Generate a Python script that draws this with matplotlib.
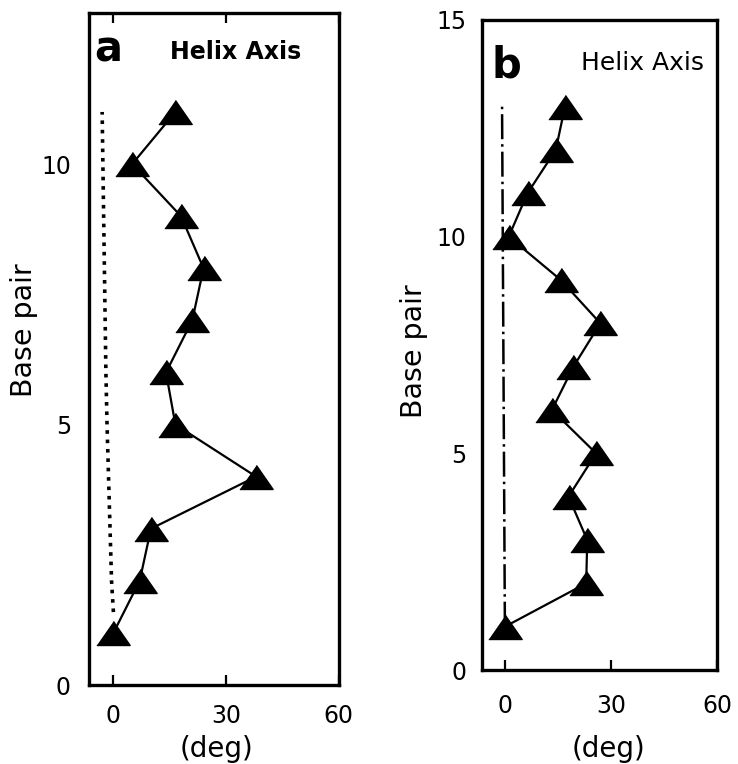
import matplotlib
matplotlib.use('Agg')
import matplotlib.pyplot as plt

# panel a: twist angle per base pair, with helix axis
bp_a = [1, 2, 3, 4, 5, 6, 7, 8, 9, 10, 11]
deg_a = [0, 7, 10, 38, 16.5, 14, 21, 24, 18, 5, 16.5]
axis_a_bp = [1.4, 2, 3, 4, 5, 6, 7, 8, 9, 10, 11]
axis_a_deg = [0, -0.5, -0.9, -1.3, -1.7, -2.0, -2.2, -2.4, -2.6, -2.8, -3.0]

# panel b
bp_b = [1, 2, 3, 4, 5, 6, 7, 8, 9, 10, 11, 12, 13]
deg_b = [0, 23, 23.3, 18, 25.8, 13.3, 19.4, 27, 15.8, 1.1, 6.4, 14.4, 17]
axis_b_bp = [1, 13]
axis_b_deg = [0, -0.8]

plt.rcParams['font.family'] = ['DejaVu Sans']

tri = [(-1, -0.72), (1, -0.72), (0, 0.72)]

fig = plt.figure(figsize=(7.38, 7.64), dpi=100)
ax_a = fig.add_axes([0.1206, 0.1034, 0.3384, 0.8796])
ax_b = fig.add_axes([0.653, 0.123, 0.3185, 0.851])

# --- panel a
ax_a.plot(axis_a_deg, axis_a_bp, color='black', linestyle=(0, (1, 1.6)), linewidth=2.6)
ax_a.plot(deg_a, bp_a, color='black', linewidth=1.6, marker=tri, markersize=24)
ax_a.set_xlim(-6.5, 59)
ax_a.set_ylim(0, 12.9)
ax_a.set_xticks([0, 30, 60])
ax_a.set_yticks([0, 5, 10])
ax_a.tick_params(direction='in', length=7, width=1.6, top=True, right=True,
                 labelsize=17)
ax_a.tick_params(axis='y', pad=13)
ax_a.tick_params(axis='x', pad=14)
ax_a.text(-1.3, 12.19, 'a', fontsize=30, fontweight='bold', ha='center', va='center')
ax_a.text(32.5, 12.15, 'Helix Axis', fontsize=17, fontweight='bold',
          ha='center', va='center')
ax_a.set_ylabel('Base pair', fontsize=20.5)
ax_a.set_xlabel('(deg)', fontsize=20)
ax_a.yaxis.set_label_coords(-0.204, 0.528)
ax_a.xaxis.set_label_coords(0.51, -0.074)

# --- panel b
ax_b.plot(axis_b_deg, axis_b_bp, color='black', linestyle=(0, (10, 2, 1, 2)), linewidth=1.8)
ax_b.plot(deg_b, bp_b, color='black', linewidth=1.6, marker=tri, markersize=24)
ax_b.set_xlim(-6.5, 59)
ax_b.set_ylim(0, 15)
ax_b.set_xticks([0, 30, 60])
ax_b.set_yticks([0, 5, 10, 15])
ax_b.tick_params(direction='in', length=7, width=1.6, labelsize=17)
ax_b.tick_params(axis='y', pad=11)
ax_b.tick_params(axis='x', pad=17)
ax_b.text(0.5, 13.94, 'b', fontsize=30, fontweight='bold', ha='center', va='center')
ax_b.text(38.9, 14.0, 'Helix Axis', fontsize=18, ha='center', va='center')
ax_b.set_ylabel('Base pair', fontsize=20.5)
ax_b.set_xlabel('(deg)', fontsize=20)
ax_b.yaxis.set_label_coords(-0.23, 0.49)
ax_b.xaxis.set_label_coords(0.54, -0.1)

for ax in (ax_a, ax_b):
    for s in ax.spines.values():
        s.set_linewidth(2.4)
    # hide tick marks at the axis ends, keep labels
    for t in ax.yaxis.get_major_ticks():
        if t.get_loc() in (0, 15):
            t.tick1line.set_visible(False)
            t.tick2line.set_visible(False)
    for t in ax.xaxis.get_major_ticks():
        if t.get_loc() == 60:
            t.tick1line.set_visible(False)
            t.tick2line.set_visible(False)

fig.savefig('out.png', dpi=100)
